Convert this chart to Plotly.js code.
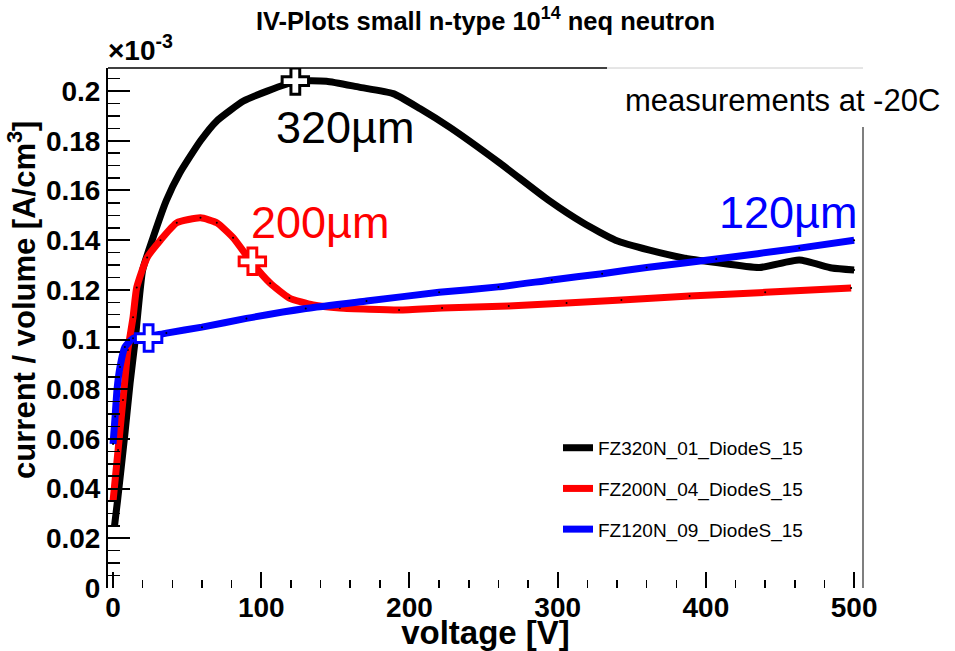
<!DOCTYPE html>
<html>
<head>
<meta charset="utf-8">
<script src="https://cdn.plot.ly/plotly-3.0.1.min.js"></script>
<style>html,body{margin:0;padding:0;background:#fff;}#chart{width:955px;height:651px;}</style>
</head>
<body>
<div id="chart"></div>
<script>
// Units: voltage [V], current/volume [1e-3 A/cm^3]
var v320 = [1, 3, 8, 11.5, 15, 20, 27, 36, 45, 59, 70, 88, 104, 124, 144, 166, 189, 207, 227, 261, 294, 317, 339, 362, 384, 407, 436, 463, 485, 500];
var i320 = [0.025, 0.035, 0.062, 0.0825, 0.100, 0.128, 0.141, 0.156, 0.167, 0.180, 0.188, 0.196, 0.200, 0.204, 0.204, 0.2016, 0.199, 0.193, 0.1855, 0.171, 0.156, 0.147, 0.140, 0.136, 0.133, 0.131, 0.129, 0.132, 0.1288, 0.128];

var v200 = [0, 3.4, 6.7, 10, 13.5, 16, 23, 32, 43, 59, 70, 81, 93.6, 106, 119, 135, 153, 193, 222, 267, 306, 343, 389, 440, 498];
var i200 = [0.035, 0.0555, 0.0757, 0.0958, 0.109, 0.121, 0.133, 0.140, 0.147, 0.149, 0.147, 0.141, 0.131, 0.1227, 0.1167, 0.1139, 0.1127, 0.1119, 0.1127, 0.1135, 0.1147, 0.1159, 0.1175, 0.119, 0.1207];

var v120 = [0, 1.4, 2.7, 4.7, 8, 13.5, 24, 36, 60, 90, 130, 171, 220, 260, 296, 330, 360, 407, 463, 500];
var i120 = [0.058, 0.069, 0.080, 0.089, 0.097, 0.1005, 0.1012, 0.1026, 0.105, 0.1085, 0.1125, 0.1155, 0.119, 0.1212, 0.124, 0.1265, 0.129, 0.1324, 0.1368, 0.140];

var names = ['FZ320N_01_DiodeS_15', 'FZ200N_04_DiodeS_15', 'FZ120N_09_DiodeS_15'];
var colors = ['#000000', '#ff0000', '#0000ff'];
var labels = ['320µm', '200µm', '120µm'];

// Depletion markers (open crosses)
var depV = [123, 94, 24];
var depI = [0.204, 0.1315, 0.1006];

// Label positions (data coords)
var labV = [157, 140, 456];
var labI = [0.1855, 0.147, 0.1513];

var FONT = 'Liberation Sans, Arial, Helvetica, sans-serif';
var xs = [v320, v200, v120];
var ys = [i320, i200, i120];

var traces = [];
for (var k = 0; k < 3; k++) {
  traces.push({
    x: xs[k], y: ys[k], type: 'scatter', mode: 'lines', name: names[k],
    legendgroup: 'g' + k,
    line: {color: colors[k], width: 7, shape: 'spline', smoothing: 0.5}
  });
  traces.push({
    x: xs[k], y: ys[k], type: 'scatter', mode: 'markers', showlegend: false,
    legendgroup: 'g' + k, hoverinfo: 'skip',
    marker: {color: '#000', size: 2}
  });
}
for (var k = 0; k < 3; k++) {
  traces.push({
    x: [depV[k]], y: [depI[k]], type: 'scatter', mode: 'markers', showlegend: false,
    legendgroup: 'g' + k,
    marker: {symbol: 'cross', size: 22, color: '#ffffff', line: {color: colors[k], width: 3}}
  });
}

var annotations = [];
for (var k = 0; k < 3; k++) {
  annotations.push({
    x: labV[k], y: labI[k], xref: 'x', yref: 'y', text: labels[k], showarrow: false,
    xanchor: 'center', yanchor: 'middle',
    font: {family: FONT, size: 45, color: colors[k]}
  });
}
annotations.push({
  x: 452, y: 0.1964, xref: 'x', yref: 'y', text: 'measurements at -20C', showarrow: false,
  xanchor: 'center', yanchor: 'middle', font: {family: FONT, size: 31, color: '#000'}
});
annotations.push({
  x: 0, y: 1, xref: 'paper', yref: 'paper', text: '×10<sup>-3</sup>', showarrow: false,
  xanchor: 'left', yanchor: 'bottom', xshift: -2, yshift: 0,
  font: {family: FONT, size: 28, color: '#000', weight: 'bold'}
});
// y-axis title (placed like the ROOT original, above the axis centre)
annotations.push({
  x: 0, y: 0.554, xref: 'paper', yref: 'paper', text: 'current / volume [A/cm<sup>3</sup>]',
  showarrow: false, textangle: -90, xanchor: 'center', yanchor: 'middle', xshift: -86,
  font: {family: FONT, size: 31, color: '#000', weight: 'bold'}
});

var layout = {
  width: 955, height: 651,
  paper_bgcolor: '#ffffff', plot_bgcolor: '#ffffff',
  margin: {l: 108, r: 92, t: 68, b: 63, pad: 0},
  font: {family: FONT, color: '#000'},
  title: {
    text: 'IV-Plots small n-type 10<sup>14</sup> neq neutron',
    font: {family: FONT, size: 25.5, weight: 'bold', color: '#000'},
    x: 0.5, xref: 'paper', xanchor: 'center', y: 0.968, yanchor: 'middle'
  },
  xaxis: {
    range: [-3.4, 506], tick0: 0, dtick: 100,
    ticks: 'inside', ticklen: 16, tickwidth: 2, tickcolor: '#000',
    minor: {dtick: 20, tick0: 0, ticks: 'inside', ticklen: 8, tickwidth: 1.5, tickcolor: '#000', showgrid: false},
    showline: false, showgrid: false, zeroline: false,
    tickfont: {family: FONT, size: 28, weight: 'bold', color: '#000'},
    title: {text: 'voltage [V]', font: {family: FONT, size: 33, weight: 'bold', color: '#000'}, standoff: 3}
  },
  yaxis: {
    range: [0, 0.2093], tick0: 0, dtick: 0.02,
    ticks: 'inside', ticklen: 22, tickwidth: 2, tickcolor: '#000',
    minor: {dtick: 0.005, tick0: 0, ticks: 'inside', ticklen: 12, tickwidth: 1.5, tickcolor: '#000', showgrid: false},
    showline: true, linewidth: 2, linecolor: '#000', showgrid: false, zeroline: false,
    tickfont: {family: FONT, size: 28, weight: 'bold', color: '#000'}
  },
  legend: {
    x: 0.596, xanchor: 'left', y: 0.306, yanchor: 'top',
    bgcolor: 'rgba(255,255,255,0)', borderwidth: 0,
    font: {family: FONT, size: 19, color: '#000'},
    tracegroupgap: 13, traceorder: 'grouped'
  },
  showlegend: true,
  annotations: annotations,
  shapes: [
    {type: 'line', xref: 'paper', yref: 'paper', x0: 0, x1: 0.661, y0: 1, y1: 1, line: {color: '#000', width: 1.5}},
    {type: 'line', xref: 'paper', yref: 'paper', x0: 0.661, x1: 1.0, y0: 1, y1: 1, line: {color: '#cccccc', width: 1}},
    {type: 'line', xref: 'paper', yref: 'paper', x0: 1, x1: 1, y0: 0, y1: 0.8865, line: {color: '#555555', width: 1.5}}
  ]
};

Plotly.newPlot('chart', traces, layout, {displayModeBar: false, staticPlot: true});
</script>
</body>
</html>
